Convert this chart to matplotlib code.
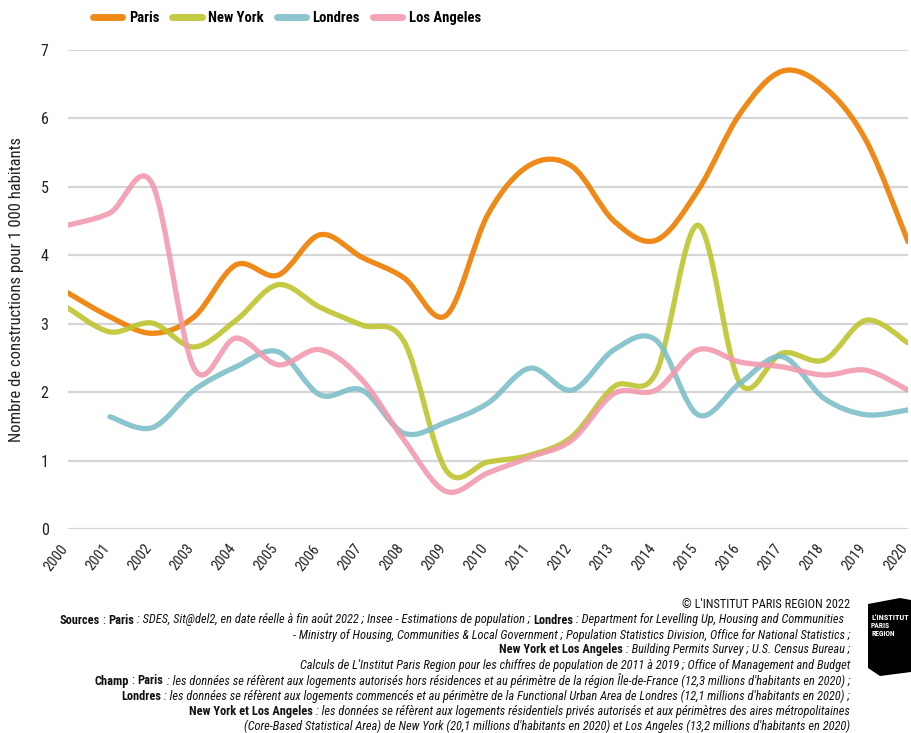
import matplotlib
matplotlib.use("Agg")
import matplotlib.pyplot as plt
from matplotlib import font_manager
from matplotlib.path import Path
from matplotlib.patches import PathPatch, Polygon
from matplotlib.lines import Line2D

years = list(range(2000, 2021))
paris = [3.45, 3.1, 2.86, 3.1, 3.86, 3.71, 4.3, 3.97, 3.67, 3.12, 4.6, 5.32, 5.3,
         4.5, 4.22, 4.95, 6.07, 6.69, 6.46, 5.68, 4.2]
new_york = [3.23, 2.88, 3.01, 2.66, 3.05, 3.57, 3.24, 2.98, 2.74, 0.86, 0.98, 1.08,
            1.35, 2.08, 2.28, 4.44, 2.13, 2.57, 2.47, 3.05, 2.72]
londres_years = list(range(2001, 2021))
londres = [1.64, 1.48, 2.03, 2.37, 2.59, 1.96, 2.03, 1.40, 1.56, 1.84, 2.35, 2.03,
           2.62, 2.76, 1.67, 2.13, 2.52, 1.91, 1.67, 1.74]
los_angeles = [4.44, 4.62, 5.05, 2.35, 2.79, 2.4, 2.62, 2.18, 1.3, 0.55, 0.82, 1.05,
               1.3, 1.98, 2.03, 2.62, 2.44, 2.37, 2.25, 2.32, 2.03]

series = [
    ("Paris", years, paris, "#EE7D00"),
    ("New York", years, new_york, "#BEC530"),
    ("Londres", londres_years, londres, "#7FBFC9"),
    ("Los Angeles", years, los_angeles, "#F29AAE"),
]

LW = 3.8
ALPHA = 0.9

# pick a narrow font if one is installed (the original uses a condensed face)
names = set(f.name for f in font_manager.fontManager.ttflist)
cond_stretch = set(f.name for f in font_manager.fontManager.ttflist
                   if f.stretch in ('condensed', 'semi-condensed', 'extra-condensed', 600, 700))
FONT = 'DejaVu Sans'
STRETCH = 'normal'
for cand in ['Liberation Sans Narrow', 'Roboto Condensed', 'Noto Sans Condensed',
             'Open Sans Condensed', 'DejaVu Sans Condensed', 'Arial Narrow']:
	if cand in names:
		FONT = cand
		break
else:
	for cand in ['Roboto', 'Noto Sans', 'DejaVu Sans', 'Open Sans']:
		if cand in cond_stretch:
			FONT = cand
			STRETCH = 'condensed'
			break
NARROW = FONT != 'DejaVu Sans' or STRETCH == 'condensed'
plt.rcParams['font.family'] = [FONT, 'DejaVu Sans']
plt.rcParams['font.stretch'] = STRETCH
k = 1.0 if NARROW else 0.82   # shrink text when only a wide face is found


def smooth_path(xs, ys):
	"""Catmull-Rom curve through the points, as cubic bezier segments"""
	pts = list(zip(xs, ys))
	n = len(pts)
	verts = [pts[0]]
	codes = [Path.MOVETO]
	for i in range(n - 1):
		p0 = pts[i - 1] if i > 0 else pts[i]
		p1 = pts[i]
		p2 = pts[i + 1]
		p3 = pts[i + 2] if i + 2 < n else pts[i + 1]
		c1 = (p1[0] + (p2[0] - p0[0]) / 6.0, p1[1] + (p2[1] - p0[1]) / 6.0)
		c2 = (p2[0] - (p3[0] - p1[0]) / 6.0, p2[1] - (p3[1] - p1[1]) / 6.0)
		verts += [c1, c2, p2]
		codes += [Path.CURVE4] * 3
	return Path(verts, codes)


fig = plt.figure(figsize=(9.11, 7.33), dpi=100)
ax = fig.add_axes([68 / 911, 1 - 529 / 733, 840 / 911, 479 / 733])

for name, xs, ys, color in series:
	patch = PathPatch(smooth_path(xs, ys), facecolor='none', edgecolor=color,
	                  lw=LW, alpha=ALPHA, capstyle='round', joinstyle='round', zorder=3)
	ax.add_patch(patch)

ax.set_xlim(2000, 2020)
ax.set_ylim(0, 7)
ax.set_yticks(range(0, 8))
ax.set_xticks(years)
ax.set_xticklabels([str(y) for y in years], rotation=52, ha='right', va='baseline',
                   rotation_mode='anchor', fontsize=10.5 * k, color='#222222')
ax.tick_params(axis='y', length=0, pad=14, labelsize=11.5 * k, labelcolor='#222222')
ax.tick_params(axis='x', length=0, pad=14)
for s in ax.spines.values():
	s.set_visible(False)
ax.grid(axis='y', color='#d6d6d6', lw=1.6, zorder=0)
ax.set_axisbelow(True)
ax.set_ylabel("Nombre de constructions pour 1 000 habitants", fontsize=12 * k,
              color='#222222', labelpad=12)

handles = [Line2D([0], [0], color=c, lw=5, solid_capstyle='round', alpha=ALPHA)
           for _, _, _, c in series]
fig.legend(handles, [s[0] for s in series], loc='center left',
           bbox_to_anchor=(80 / 911, 1 - 18 / 733), ncol=4, frameon=False,
           handlelength=2.0, handletextpad=0.45, columnspacing=0.9,
           prop={'size': 10.5 * k, 'weight': 'bold'})

# footer, right aligned, pieces of mixed style
B = {'weight': 'bold', 'style': 'normal'}
I = {'weight': 'normal', 'style': 'italic'}
R = {'weight': 'normal', 'style': 'normal'}
footer = [
	[("© L'INSTITUT PARIS REGION 2022", R)],
	[("Sources", B), (" : ", R), ("Paris", B),
	 (" : SDES, Sit@del2, en date réelle à fin août 2022 ; Insee - Estimations de population ; ", I),
	 ("Londres", B), (" : Department for Levelling Up, Housing and Communities  ", I)],
	[("- Ministry of Housing, Communities & Local Government ; Population Statistics Division, Office for National Statistics ;", I)],
	[("New York et Los Angeles", B), (" : Building Permits Survey ; U.S. Census Bureau ;", I)],
	[("Calculs de L'Institut Paris Region pour les chiffres de population de 2011 à 2019 ; Office of Management and Budget", I)],
	[("Champ", B), (" : ", R), ("Paris", B),
	 (" : les données se réfèrent aux logements autorisés hors résidences et au périmètre de la région Île-de-France (12,3 millions d'habitants en 2020) ;", I)],
	[("Londres", B),
	 (" : les données se réfèrent aux logements commencés et au périmètre de la Functional Urban Area de Londres (12,1 millions d'habitants en 2020) ;", I)],
	[("New York et Los Angeles", B),
	 (" : les données se réfèrent aux logements résidentiels privés autorisés et aux périmètres des aires métropolitaines", I)],
	[("(Core-Based Statistical Area) de New York (20,1 millions d'habitants en 2020) et Los Angeles (13,2 millions d'habitants en 2020)", I)],
]
line_y = [605, 620, 635, 650, 666, 681, 696, 711, 726]

renderer = fig.canvas.get_renderer()
right_px = 850


def draw_line(pieces, y, size, draw=True):
	x = right_px
	made = []
	for text, st in reversed(pieces):
		t = fig.text(x / 911, 1 - y / 733, text, ha='right', va='center',
		             fontsize=size, color='#111111', **st)
		x -= t.get_window_extent(renderer).width
		made.append(t)
	if not draw:
		for t in made:
			t.remove()
	return right_px - x


# size so the "Sources" line spans the same width as in the original (about 790 px)
base = 9.0
w = draw_line(footer[1], line_y[1], base, draw=False)
fsize = min(base, base * 790 / w)
for pieces, y in zip(footer, line_y):
	draw_line(pieces, y, fsize)

# logo
pts = [(868, 604), (900, 598), (911, 600), (911, 672), (880, 676), (868, 668)]
logo = Polygon([(px / 911, 1 - py / 733) for px, py in pts], closed=True,
               facecolor='black', edgecolor='none', transform=fig.transFigure)
fig.patches.append(logo)
fig.text(871 / 911, 1 - 617 / 733, "L'INSTITUT", color='white', fontsize=6,
         weight='bold', ha='left', va='center')
fig.text(871 / 911, 1 - 626 / 733, "PARIS", color='white', fontsize=5.5,
         weight='bold', ha='left', va='center')
fig.text(871 / 911, 1 - 634 / 733, "REGION", color='white', fontsize=5.5,
         weight='bold', ha='left', va='center')

fig.savefig("out.png", dpi=100)
